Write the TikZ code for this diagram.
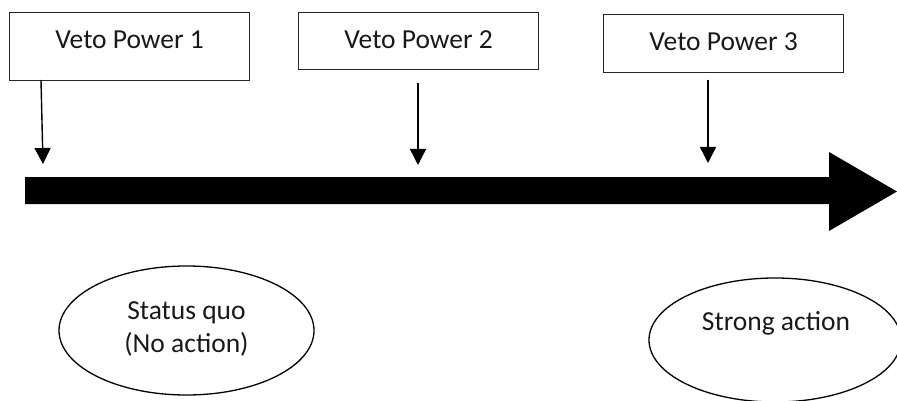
\documentclass[tikz,border=0pt]{standalone}
\usepackage{fontspec}
\setmainfont{Carlito}
\usetikzlibrary{arrows.meta,shapes.geometric}
\begin{document}
\begin{tikzpicture}[x=1pt,y=-1pt,
  vetobox/.style={draw=black!85, line width=1.3pt, rectangle, inner sep=0pt, anchor=north west,
    font=\fontsize{27.5}{32}\selectfont, text=black!90, text height=36pt},
  oval/.style={draw=black, line width=1.3pt, ellipse, inner sep=0pt},
  lbl/.style={font=\fontsize{27.5}{32}\selectfont, text=black!90, anchor=base, inner sep=0pt},
  drop/.style={line width=1.4pt, -{Triangle[width=16pt,length=16pt]}}]
\useasboundingbox (0,0) rectangle (897,401);
% veto boxes
\node[vetobox, minimum width=240pt, text depth=32pt] (b1) at (9,12) {Veto Power 1};
\node[vetobox, minimum width=240pt, text depth=21pt] (b2) at (298,12) {Veto Power 2};
\node[vetobox, minimum width=240pt, text depth=22pt] (b3) at (603,14) {Veto Power 3};
% big arrow
\fill[black] (25,177) -- (829,177) -- (829,152) -- (897,191.5) -- (829,231) -- (829,204) -- (25,204) -- cycle;
% small arrows
\coordinate (s1) at (41,80);
\coordinate (e1) at (43,164);
\coordinate (s2) at (418,83);
\coordinate (e2) at (418,165);
\coordinate (s3) at (708,80);
\coordinate (e3) at (708,163);
\draw[drop] (s1) -- (e1);
\draw[drop] (s2) -- (e2);
\draw[drop] (s3) -- (e3);
% ellipses
\node[oval, minimum width=255pt, minimum height=129pt] (o1) at (186.5,330.5) {};
\node[oval, minimum width=252pt, minimum height=124pt] (o2) at (775,340) {};
\node[lbl] (t1a) at (186.5,319) {Status quo};
\node[lbl] (t1b) at (186.5,352) {(No action)};
\node[lbl] (t2) at (776,330) {Strong action};
\end{tikzpicture}
\end{document}
